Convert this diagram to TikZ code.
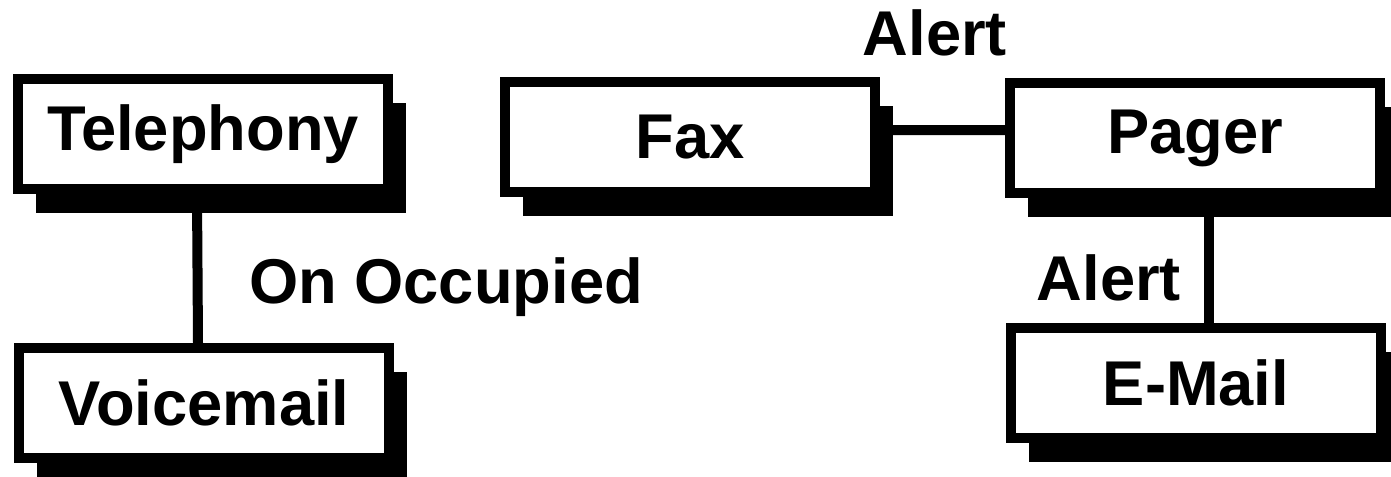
\documentclass[tikz,border=0pt]{standalone}
\usepackage{fontspec}
\setmainfont{Liberation Sans}
\usetikzlibrary{shadows}

\begin{document}
\begin{tikzpicture}[
        box/.style={draw=black, fill=white, line width=0.2cm, minimum width=7.4cm, minimum height=2.2cm, align=center,
          font=\fontsize{36}{42}\selectfont\bfseries,
          drop shadow={shadow xshift=0.36cm, shadow yshift=-0.48cm, fill=black, opacity=1}},
        lbl/.style={anchor=base, inner sep=0pt, font=\fontsize{36}{42}\selectfont\bfseries},
        link/.style={draw=black, line width=0.2cm}
      ]
        \useasboundingbox (0,0) rectangle (27.82,-9.52);
        \node[box] (telephony) at (4.06,-2.68) {Telephony};
        \node[box] (voicemail) at (4.08,-8.06) {Voicemail};
        \node[box] (fax) at (13.8,-2.74) {Fax};
        \node[box] (pager) at (23.9,-2.76) {Pager};
        \node[box] (email) at (23.92,-7.66) {E-Mail};
        \node[lbl] (alerttop) at (18.7,-1.10) {Alert};
        \node[lbl] (occupied) at (8.92,-6.06) {On Occupied};
        \node[lbl] (alertlow) at (22.18,-6.0) {Alert};
        \draw[link] ([xshift=-0.12cm]telephony.south) -- ([xshift=-0.12cm]voicemail.north);
        \draw[link] ([yshift=0.14cm]fax.east) -- ([yshift=0.16cm]pager.west);
        \draw[link] ([xshift=0.28cm]pager.south) -- ([xshift=0.26cm]email.north);
      \end{tikzpicture}
\end{document}
